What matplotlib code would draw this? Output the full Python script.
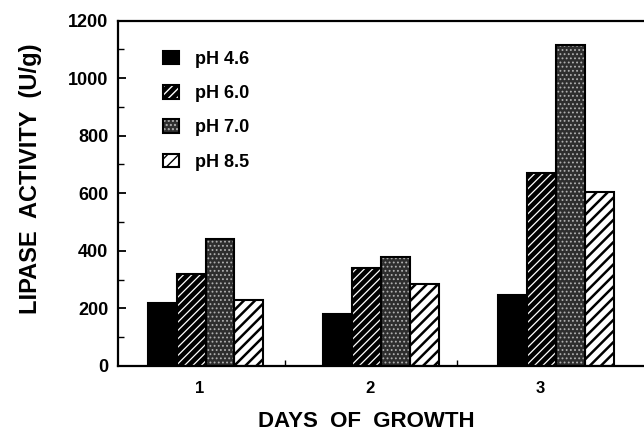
import matplotlib
matplotlib.use("Agg")
import matplotlib.pyplot as plt
import numpy as np

days = ["1", "2", "3"]
series = ["pH 4.6", "pH 6.0", "pH 7.0", "pH 8.5"]
ph46 = [220, 180, 245]
ph60 = [320, 340, 670]
ph70 = [440, 380, 1115]
ph85 = [230, 285, 605]
values = [ph46, ph60, ph70, ph85]

yticks = [0, 200, 400, 600, 800, 1000, 1200]

plt.rcParams['font.family'] = ['Liberation Sans', 'DejaVu Sans']
plt.rcParams['font.weight'] = 'bold'

fig = plt.figure(figsize=(6.44, 4.32), dpi=100)
ax = fig.add_axes([0.183, 0.153, 0.817, 0.7995])

styles = [
    dict(face='black', hatch=None, hcol='black', hlw=1.0),
    dict(face='black', hatch='////', hcol='white', hlw=0.9),
    dict(face='#2e2e2e', hatch='....', hcol='#b0b0b0', hlw=0.8),
    dict(face='white', hatch='///', hcol='black', hlw=1.8),
]

x = np.arange(1, len(days) + 1)
w = 0.165
handles = []
for i, (vals, st) in enumerate(zip(values, styles)):
    pos = x + (i - 1.5) * w
    b1 = ax.bar(pos, vals, w, color=st['face'], edgecolor=st['hcol'],
                hatch=st['hatch'], linewidth=0, zorder=2)
    for p in b1:
        if hasattr(p, 'set_hatch_linewidth'):
            p.set_hatch_linewidth(st['hlw'])
    b2 = ax.bar(pos, vals, w, fill=False, edgecolor='black', linewidth=1.5, zorder=3)
    handles.append((b1[0], b2[0]))

ax.set_xlim(0.5, 3.5)
ax.set_ylim(0, 1200)
ax.set_yticks(yticks)
ax.set_yticks(np.arange(100, 1200, 200), minor=True)
ax.tick_params(axis='y', which='major', direction='in', length=6, width=1.3,
               pad=7, labelsize=13)
ax.tick_params(axis='y', which='minor', direction='in', length=4, width=1.0)

ax.set_xticks([0.968, 1.937, 2.907])
ax.set_xticklabels(days)
ax.set_xticks([1.453, 2.434], minor=True)
ax.tick_params(axis='x', which='major', length=0, pad=11, labelsize=12)
ax.tick_params(axis='x', which='minor', direction='in', length=4, width=1.0)

for s in ['left', 'bottom', 'top']:
    ax.spines[s].set_linewidth(1.6)
ax.spines['right'].set_visible(False)

ax.text(-0.166, 0.541, "LIPASE  ACTIVITY  (U/g)", transform=ax.transAxes,
        rotation=90, ha='center', va='center', fontsize=17, fontweight='bold')
ax.text(0.473, -0.176, "DAYS  OF  GROWTH", transform=ax.transAxes,
        ha='center', va='baseline', fontsize=16, fontweight='bold')

leg = ax.legend(handles, series, loc='upper left', bbox_to_anchor=(0.054, 0.96),
                frameon=False, fontsize=13, handlelength=0.9, handleheight=0.8,
                handletextpad=0.9, labelspacing=0.95)
for t in leg.get_texts():
    t.set_fontweight('bold')

fig.savefig("out.png", dpi=100)
